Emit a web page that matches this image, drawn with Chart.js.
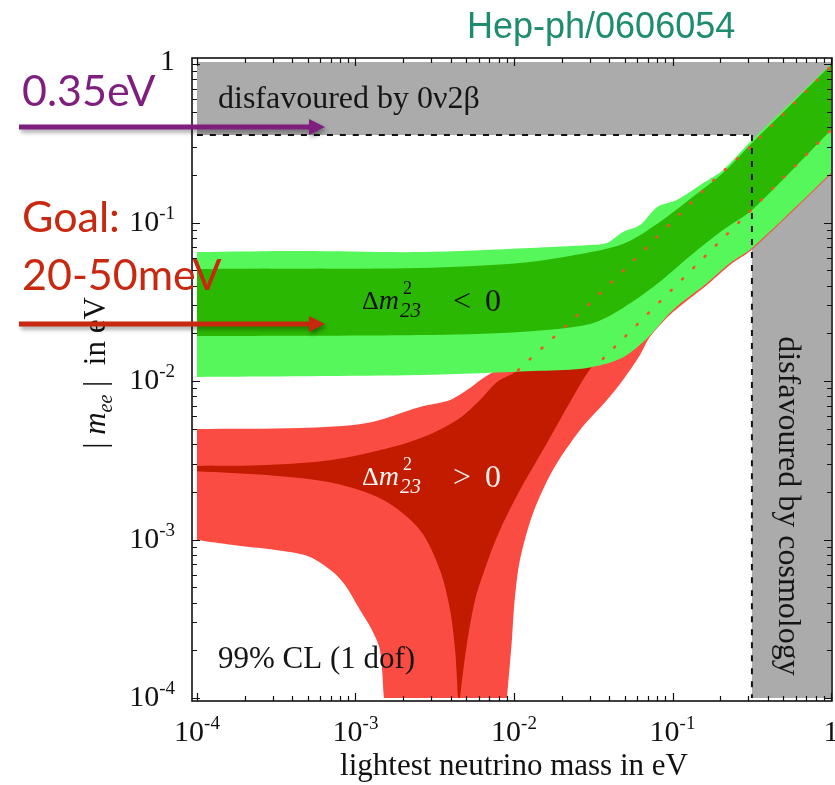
<!DOCTYPE html>
<html>
<head>
<meta charset="utf-8">
<title>|m_ee| versus lightest neutrino mass</title>
<script src="https://cdn.jsdelivr.net/npm/chart.js@4.4.1/dist/chart.umd.min.js"></script>
<style>
  html, body { margin: 0; padding: 0; background: #fff; }
  #wrap { width: 835px; height: 785px; }
</style>
</head>
<body>
<div id="wrap"><canvas id="mee" width="835" height="785"></canvas></div>
<script>
// decade ticks and their labels (mantissa, exponent)
const decades = [1e-4, 1e-3, 1e-2, 1e-1, 1];
const decadeLabels = [['10', '-4'], ['10', '-3'], ['10', '-2'], ['10', '-1'], ['1', '']];

// excluded regions, eV
const betaBound = 0.356;   // 0v2b limit on |m_ee|
const cosmoBound = 0.317;  // cosmology limit on lightest mass
const plotTop = 1.03;
const plotFloor = 1e-4;

// band edges, [lightest mass, |m_ee|] in eV
const invOuterTop = [[1e-4, 0.0651], [4.47e-4, 0.0661], [2.55e-3, 0.0651], [0.0126, 0.0691], [0.0302, 0.0721],
  [0.0386, 0.0743], [0.0487, 0.0871], [0.0624, 0.0964], [0.0798, 0.125], [0.107, 0.139], [0.156, 0.1775],
  [0.208, 0.214], [0.3175, 0.3315], [1, 1]];
const invOuterBottom = [[1e-4, 0.0106], [2.55e-3, 0.0109], [0.0146, 0.0116], [0.0289, 0.0121], [0.0467, 0.0138],
  [0.0671, 0.0181], [0.1007, 0.0281], [0.165, 0.0415], [0.2306, 0.0555], [0.3175, 0.0691], [1, 0.2053]];
const invInnerTop = [[1e-4, 0.0509], [2.55e-3, 0.0516], [0.0109, 0.0555], [0.0225, 0.0615], [0.0487, 0.0732],
  [0.0798, 0.0978], [0.129, 0.1407], [0.208, 0.2053], [0.3175, 0.3175], [1, 0.986]];
const invInnerBottom = [[1e-4, 0.0192], [2.55e-3, 0.0195], [0.0109, 0.0204], [0.0302, 0.0229], [0.0487, 0.0289],
  [0.0798, 0.0409], [0.129, 0.0615], [0.208, 0.0897], [0.3175, 0.12], [1, 0.383]];

const normOuterTop = [[1e-4, 0.00498], [4.47e-4, 0.00505], [1.18e-3, 0.00543], [2.55e-3, 0.00686], [3.95e-3, 0.00759],
  [5.27e-3, 0.00903], [6.37e-3, 0.0104], [0.0109, 0.0146], [0.0349, 0.0349], [0.3175, 0.308], [1, 0.97]];
const normOuterBottom = [[1e-4, 9.93e-4], [1.69e-4, 9.23e-4], [3.49e-4, 8.46e-4], [5.16e-4, 7.76e-4], [7.21e-4, 6.24e-4],
  [8.59e-4, 5.16e-4], [1.068e-3, 3.59e-4], [1.27e-3, 2.685e-4], [1.427e-3, 2.01e-4], [1.51e-3, 1e-4], [9.03e-3, 1e-4],
  [9.7e-3, 2.32e-4], [0.0101, 4.15e-4], [0.0109, 7.43e-4], [0.0132, 1.47e-3], [0.0176, 2.745e-3], [0.0261, 4.91e-3],
  [0.0386, 7.59e-3], [0.0487, 0.01015], [0.0624, 0.0146], [0.0721, 0.019], [0.1007, 0.0272], [0.165, 0.0404],
  [0.2306, 0.054], [0.3175, 0.0675], [1, 0.2015]];
const normInnerTop = [[1e-4, 0.00291], [2.77e-4, 0.00295], [7.21e-4, 0.00318], [1.91e-3, 0.00395], [3.08e-3, 0.0047],
  [4.56e-3, 0.00584], [6.1e-3, 0.00759], [7.81e-3, 0.00986], [9.44e-3, 0.0109], [0.0106, 0.0117], [0.0216, 0.0226],
  [0.0302, 0.031], [0.0588, 0.0597], [0.1148, 0.1165], [0.188, 0.191], [0.3175, 0.308], [1, 0.97]];
const normInnerBottom = [[1e-4, 0.0027], [2.77e-4, 0.00255], [7.21e-4, 0.00227], [1.49e-3, 0.00178], [2.55e-3, 0.00115],
  [3.41e-3, 6.42e-4], [3.95e-3, 3.59e-4], [4.25e-3, 2.01e-4], [4.43e-3, 1e-4], [4.56e-3, 1e-4], [4.98e-3, 2.01e-4],
  [5.68e-3, 4.15e-4], [6.86e-3, 7.43e-4], [8.16e-3, 1.15e-3], [0.0109, 2.05e-3], [0.0146, 3.41e-3], [0.0195, 5.68e-3],
  [0.0272, 0.01015], [0.0325, 0.013], [0.0364, 0.0138], [0.19, 0.0725], [1, 0.383]];

// normal-ordering edges that run through the green region
const normUpperDotted = normInnerTop.slice(9);
const normLowerDotted = normInnerBottom.slice(-3);

// closed outline: top edge left to right, bottom edge back. Corners and
// points sitting on the plot floor are doubled so the smoothing keeps them sharp.
function band(top, bottom) {
  const back = bottom.slice().reverse().flatMap(p => (p[1] <= plotFloor ? [p, p] : [p]));
  return [top[0], ...top, top[top.length - 1], back[0], ...back, back[back.length - 1]];
}

const serif = '"Liberation Serif", "Times New Roman", serif';
const sans = 'Lato, "Open Sans", sans-serif';

function area(data, color, order, tension) {
  return { data, backgroundColor: color, borderColor: 'rgba(0,0,0,0)', borderWidth: 0,
    fill: 'shape', pointRadius: 0, tension, order };
}

function curve(data, color, width, dash, cap, order) {
  return { data, borderColor: color, borderWidth: width, borderDash: dash, borderCapStyle: cap,
    fill: false, pointRadius: 0, tension: 0.3, order };
}

// text with an optional raised exponent, anchored by its right edge or centre
function powLabel(ctx, base, exp, x, y, align) {
  ctx.font = '30px ' + serif;
  const wb = ctx.measureText(base).width;
  ctx.font = '19px ' + serif;
  const we = exp ? ctx.measureText(exp).width : 0;
  const left = align === 'center' ? x - (wb + we) / 2 : x - wb - we;
  ctx.font = '30px ' + serif;
  ctx.fillText(base, left, y);
  if (exp) {
    ctx.font = '19px ' + serif;
    ctx.fillText(exp, left + wb, y - 12);
  }
}

function deltaLabel(ctx, x, y, sign, color) {
  ctx.fillStyle = color;
  ctx.font = '26px ' + serif;
  ctx.fillText('\u0394', x, y);
  let cx = x + ctx.measureText('\u0394').width;
  ctx.font = 'italic 28px ' + serif;
  ctx.fillText('m', cx, y);
  cx += ctx.measureText('m').width + 1;
  ctx.font = '18px ' + serif;
  ctx.fillText('2', cx + 3, y - 15);
  ctx.font = 'italic 21px ' + serif;
  ctx.fillText('23', cx, y + 8);
  ctx.font = '32px ' + serif;
  ctx.fillText(sign, x + 91, y + 2);
  ctx.fillText('0', x + 123, y + 2);
}

function arrow(ctx, x0, x1, y, color) {
  ctx.save();
  ctx.shadowColor = 'rgba(0,0,0,0.35)';
  ctx.shadowBlur = 4;
  ctx.shadowOffsetX = 2;
  ctx.shadowOffsetY = 3;
  ctx.strokeStyle = color;
  ctx.fillStyle = color;
  ctx.lineWidth = 5;
  ctx.beginPath();
  ctx.moveTo(x0, y);
  ctx.lineTo(x1 - 12, y);
  ctx.stroke();
  ctx.beginPath();
  ctx.moveTo(x1, y);
  ctx.lineTo(x1 - 16, y - 8);
  ctx.lineTo(x1 - 16, y + 8);
  ctx.closePath();
  ctx.fill();
  ctx.restore();
}

const frameAndText = {
  id: 'frameAndText',
  afterDraw(chart) {
    const { ctx, chartArea: a, scales: { x: xs, y: ys } } = chart;
    ctx.save();

    // frame with inward log ticks on every side
    ctx.strokeStyle = '#111';
    ctx.lineWidth = 1.6;
    ctx.strokeRect(a.left, a.top, a.right - a.left, a.bottom - a.top);
    ctx.lineWidth = 1.2;
    ctx.beginPath();
    decades.forEach(d => {
      for (let k = 1; k < 10; k++) {
        const v = d * k;
        const len = k === 1 ? 8 : 5;
        if (v >= xs.min && v <= xs.max) {
          const px = Math.round(xs.getPixelForValue(v)) + 0.5;
          ctx.moveTo(px, a.bottom); ctx.lineTo(px, a.bottom - len);
          ctx.moveTo(px, a.top); ctx.lineTo(px, a.top + len);
        }
        if (v >= ys.min && v <= ys.max) {
          const py = Math.round(ys.getPixelForValue(v)) + 0.5;
          ctx.moveTo(a.left, py); ctx.lineTo(a.left + len, py);
          ctx.moveTo(a.right, py); ctx.lineTo(a.right - len, py);
        }
      }
    });
    ctx.stroke();

    // decade labels
    ctx.fillStyle = '#111';
    ctx.textAlign = 'left';
    ctx.textBaseline = 'alphabetic';
    decades.forEach((d, i) => {
      const [base, exp] = decadeLabels[i];
      powLabel(ctx, base, exp, xs.getPixelForValue(d), 741, 'center');
      powLabel(ctx, base, exp, 175, ys.getPixelForValue(d) + (exp ? 8 : 6), 'right');
    });

    // axis titles
    ctx.font = '31px ' + serif;
    ctx.textAlign = 'center';
    ctx.fillText('lightest neutrino mass in eV', 514, 775);
    ctx.save();
    ctx.translate(105, 373);
    ctx.rotate(-Math.PI / 2);
    ctx.textAlign = 'left';
    const parts = [['| ', '31px ' + serif, 0], ['m', 'italic 31px ' + serif, 0],
      ['ee', 'italic 20px ' + serif, 7], [' |  in eV', '31px ' + serif, 0]];
    let total = 0;
    parts.forEach(p => { ctx.font = p[1]; total += ctx.measureText(p[0]).width; });
    let tx = -total / 2;
    parts.forEach(p => { ctx.font = p[1]; ctx.fillText(p[0], tx, p[2]); tx += ctx.measureText(p[0]).width; });
    ctx.restore();

    // region captions
    ctx.textAlign = 'left';
    ctx.font = '32px ' + serif;
    ctx.fillStyle = '#151515';
    ctx.fillText('disfavoured by 0\u03bd2\u03b2', 218, 108);
    ctx.font = '31px ' + serif;
    ctx.fillText('99% CL (1 dof)', 218, 668);
    ctx.save();
    ctx.translate(779, 506);
    ctx.rotate(Math.PI / 2);
    ctx.textAlign = 'center';
    ctx.font = '32px ' + serif;
    ctx.fillText('disfavoured by cosmology', 0, 0);
    ctx.restore();
    deltaLabel(ctx, 362, 309, '<', '#111');
    deltaLabel(ctx, 362, 485, '>', '#fff4f0');

    // annotations
    ctx.font = '36px "Liberation Sans", Arial, sans-serif';
    ctx.fillStyle = '#1e8c6e';
    ctx.fillText('Hep-ph/0606054', 467, 38);
    ctx.font = '43px ' + sans;
    ctx.fillStyle = '#7e1e7e';
    ctx.fillText('0.35eV', 22, 106);
    ctx.fillStyle = '#c8280f';
    ctx.fillText('Goal:', 22, 232);
    ctx.fillText('20-50meV', 22, 290);
    arrow(ctx, 19, 325, 127, '#7e1e7e');
    arrow(ctx, 19, 325, 324, '#c8280f');
    ctx.restore();
  }
};

new Chart(document.getElementById('mee'), {
  type: 'line',
  data: {
    datasets: [
      area([[1e-4, betaBound], [1, betaBound], [1, plotTop], [1e-4, plotTop]], '#ababab', 20, 0),
      area([[cosmoBound, plotFloor], [1, plotFloor], [1, betaBound], [cosmoBound, betaBound]], '#ababab', 19, 0),
      area(band(normOuterTop, normOuterBottom), '#fb4c43', 18, 0.3),
      area(band(normInnerTop, normInnerBottom), '#c31b00', 17, 0.3),
      area(band(invOuterTop, invOuterBottom), '#56f75b', 16, 0.3),
      area(band(invInnerTop, invInnerBottom), '#2bb802', 15, 0.3),
      curve(normUpperDotted, '#f0552a', 2.6, [1.2, 14.8], 'round', 14),
      curve(normLowerDotted, '#f0552a', 2.6, [1.2, 14.8], 'round', 13),
      curve([[1e-4, betaBound], [cosmoBound, betaBound]], '#111', 2, [6, 7], 'butt', 12),
      curve([[cosmoBound, betaBound], [cosmoBound, plotFloor]], '#111', 2, [6, 7], 'butt', 11)
    ]
  },
  options: {
    responsive: false,
    animation: false,
    layout: { padding: { left: 192, top: 58, right: 3, bottom: 84 } },
    plugins: { legend: { display: false }, tooltip: { enabled: false } },
    scales: {
      x: { type: 'logarithmic', display: false, min: 9.3e-5, max: 1.0146 },
      y: { type: 'logarithmic', display: false, min: 9.574e-5, max: 1.0911 }
    }
  },
  plugins: [frameAndText]
});
</script>
</body>
</html>
